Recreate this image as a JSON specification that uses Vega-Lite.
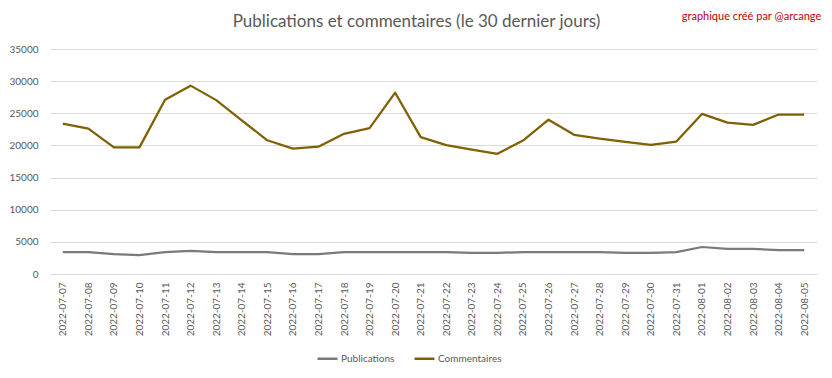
{
  "$schema": "https://vega.github.io/schema/vega-lite/v6.json",
  "width": 767,
  "height": 225,
  "autosize": {"type": "none"},
  "padding": {"left": 50, "top": 49, "right": 15, "bottom": 104},
  "background": "white",
  "title": {
    "text": "Publications et commentaires (le 30 dernier jours)",
    "font": "Lato",
    "fontSize": 17,
    "fontWeight": "normal",
    "color": "#595959",
    "anchor": "middle",
    "dx": -17,
    "offset": 0,
    "dy": 20
  },
  "config": {
    "view": {"stroke": null},
    "font": "Lato",
    "axisX": {
      "labelAngle": -90,
      "labelFontSize": 10,
      "labelColor": "#595959",
      "labelPadding": 8,
      "ticks": false,
      "domainColor": "#D9D9D9",
      "domainWidth": 1,
      "grid": false
    },
    "axisY": {
      "tickCount": 7,
      "labelOverlap": false,
      "format": "d",
      "labelFontSize": 10,
      "labelColor": "#595959",
      "labelPadding": 12,
      "ticks": false,
      "domain": false,
      "gridColor": "#D9D9D9",
      "gridWidth": 1
    }
  },
  "datasets": {
    "series": [
      {"date": "2022-07-07", "serie": "Publications", "valeur": 3400},
      {"date": "2022-07-08", "serie": "Publications", "valeur": 3400},
      {"date": "2022-07-09", "serie": "Publications", "valeur": 3100},
      {"date": "2022-07-10", "serie": "Publications", "valeur": 2950},
      {"date": "2022-07-11", "serie": "Publications", "valeur": 3400},
      {"date": "2022-07-12", "serie": "Publications", "valeur": 3600},
      {"date": "2022-07-13", "serie": "Publications", "valeur": 3400},
      {"date": "2022-07-14", "serie": "Publications", "valeur": 3400},
      {"date": "2022-07-15", "serie": "Publications", "valeur": 3400},
      {"date": "2022-07-16", "serie": "Publications", "valeur": 3100},
      {"date": "2022-07-17", "serie": "Publications", "valeur": 3100},
      {"date": "2022-07-18", "serie": "Publications", "valeur": 3400},
      {"date": "2022-07-19", "serie": "Publications", "valeur": 3400},
      {"date": "2022-07-20", "serie": "Publications", "valeur": 3400},
      {"date": "2022-07-21", "serie": "Publications", "valeur": 3400},
      {"date": "2022-07-22", "serie": "Publications", "valeur": 3400},
      {"date": "2022-07-23", "serie": "Publications", "valeur": 3300},
      {"date": "2022-07-24", "serie": "Publications", "valeur": 3300},
      {"date": "2022-07-25", "serie": "Publications", "valeur": 3400},
      {"date": "2022-07-26", "serie": "Publications", "valeur": 3400},
      {"date": "2022-07-27", "serie": "Publications", "valeur": 3400},
      {"date": "2022-07-28", "serie": "Publications", "valeur": 3400},
      {"date": "2022-07-29", "serie": "Publications", "valeur": 3300},
      {"date": "2022-07-30", "serie": "Publications", "valeur": 3300},
      {"date": "2022-07-31", "serie": "Publications", "valeur": 3400},
      {"date": "2022-08-01", "serie": "Publications", "valeur": 4200},
      {"date": "2022-08-02", "serie": "Publications", "valeur": 3900},
      {"date": "2022-08-03", "serie": "Publications", "valeur": 3900},
      {"date": "2022-08-04", "serie": "Publications", "valeur": 3700},
      {"date": "2022-08-05", "serie": "Publications", "valeur": 3700},
      {"date": "2022-07-07", "serie": "Commentaires", "valeur": 23400},
      {"date": "2022-07-08", "serie": "Commentaires", "valeur": 22600},
      {"date": "2022-07-09", "serie": "Commentaires", "valeur": 19700},
      {"date": "2022-07-10", "serie": "Commentaires", "valeur": 19700},
      {"date": "2022-07-11", "serie": "Commentaires", "valeur": 27100},
      {"date": "2022-07-12", "serie": "Commentaires", "valeur": 29300},
      {"date": "2022-07-13", "serie": "Commentaires", "valeur": 27050},
      {"date": "2022-07-14", "serie": "Commentaires", "valeur": 23900},
      {"date": "2022-07-15", "serie": "Commentaires", "valeur": 20800},
      {"date": "2022-07-16", "serie": "Commentaires", "valeur": 19500},
      {"date": "2022-07-17", "serie": "Commentaires", "valeur": 19800},
      {"date": "2022-07-18", "serie": "Commentaires", "valeur": 21800},
      {"date": "2022-07-19", "serie": "Commentaires", "valeur": 22700},
      {"date": "2022-07-20", "serie": "Commentaires", "valeur": 28200},
      {"date": "2022-07-21", "serie": "Commentaires", "valeur": 21300},
      {"date": "2022-07-22", "serie": "Commentaires", "valeur": 20050},
      {"date": "2022-07-23", "serie": "Commentaires", "valeur": 19350},
      {"date": "2022-07-24", "serie": "Commentaires", "valeur": 18700},
      {"date": "2022-07-25", "serie": "Commentaires", "valeur": 20750},
      {"date": "2022-07-26", "serie": "Commentaires", "valeur": 24000},
      {"date": "2022-07-27", "serie": "Commentaires", "valeur": 21650},
      {"date": "2022-07-28", "serie": "Commentaires", "valeur": 21050},
      {"date": "2022-07-29", "serie": "Commentaires", "valeur": 20550},
      {"date": "2022-07-30", "serie": "Commentaires", "valeur": 20100},
      {"date": "2022-07-31", "serie": "Commentaires", "valeur": 20600},
      {"date": "2022-08-01", "serie": "Commentaires", "valeur": 24900},
      {"date": "2022-08-02", "serie": "Commentaires", "valeur": 23550},
      {"date": "2022-08-03", "serie": "Commentaires", "valeur": 23200},
      {"date": "2022-08-04", "serie": "Commentaires", "valeur": 24800},
      {"date": "2022-08-05", "serie": "Commentaires", "valeur": 24800}
    ],
    "credit": [{"texte": "graphique créé par @arcange"}]
  },
  "layer": [
    {
      "data": {"name": "series"},
      "mark": {"type": "line", "strokeWidth": 2.25, "strokeJoin": "round"},
      "encoding": {
        "x": {
          "field": "date",
          "type": "ordinal",
          "scale": {"type": "point", "padding": 0.5},
          "axis": {"title": null}
        },
        "y": {
          "field": "valeur",
          "type": "quantitative",
          "scale": {"domain": [0, 35000], "nice": false},
          "axis": {"title": null}
        },
        "color": {
          "field": "serie",
          "type": "nominal",
          "scale": {"domain": ["Publications", "Commentaires"], "range": ["#7a7a7a", "#806000"]},
          "legend": {
            "title": null,
            "orient": "none",
            "direction": "horizontal",
            "legendX": 266,
            "legendY": 298,
            "symbolType": "stroke",
            "symbolSize": 400,
            "symbolStrokeWidth": 2.5,
            "labelFontSize": 10,
            "labelColor": "#595959",
            "labelOffset": 2,
            "columnPadding": 14
          }
        }
      }
    },
    {
      "data": {"name": "credit"},
      "mark": {"type": "text", "align": "right", "baseline": "middle", "color": "#C00000", "fontSize": 11, "dx": 17, "dy": -32},
      "encoding": {
        "x": {"datum": "2022-08-05", "type": "ordinal"},
        "y": {"datum": 35000, "type": "quantitative"},
        "text": {"field": "texte"}
      }
    }
  ]
}
